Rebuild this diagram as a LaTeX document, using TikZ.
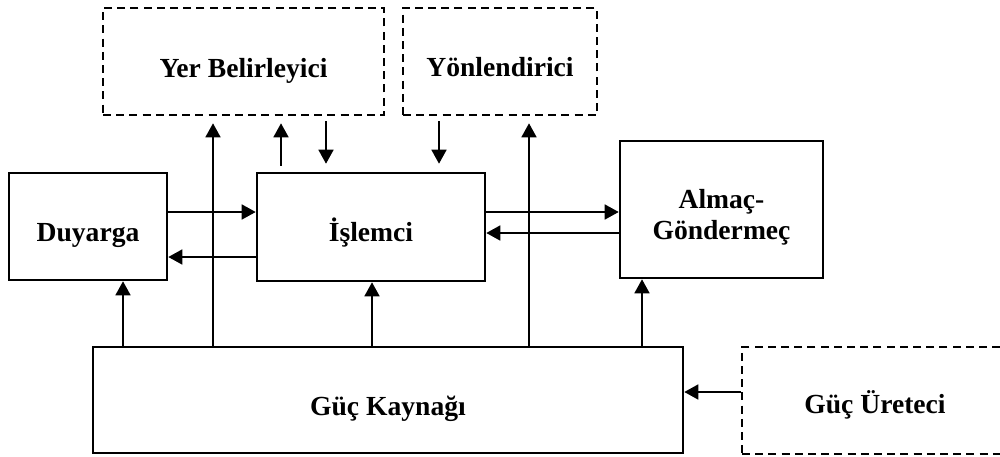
\documentclass[tikz,border=0pt]{standalone}
\usepackage{fontspec}
\setmainfont{Liberation Serif}
\usetikzlibrary{arrows.meta}
\begin{document}
\begin{tikzpicture}[x=0.5pt,y=-0.5pt,
  blk/.style={draw,line width=1.3pt,inner sep=0pt,align=center,
    font=\fontsize{13.8}{15.5}\selectfont\bfseries,
    text height=14.5pt,text depth=0pt},
  dblk/.style={blk,dash pattern=on 4pt off 2.6pt},
  arr/.style={line width=0.8pt,-{Triangle[length=7pt,width=7.5pt]}},
  ln/.style={line width=0.8pt}]
\useasboundingbox (0,0) rectangle (1000,456);
% boxes
\node[dblk,minimum width=140.5pt,minimum height=53.5pt,text height=15.5pt] (yer) at (243.5,61.5) {Yer Belirleyici};
\node[dblk,minimum width=97pt,minimum height=53.5pt] (yon) at (500,61.5) {Yönlendirici};
\node[blk,minimum width=79pt,minimum height=53.5pt] (duy) at (88,226.5) {Duyarga};
\node[blk,minimum width=114pt,minimum height=54pt,text height=14pt] (isl) at (371,227) {İşlemci};
\node[blk,minimum width=101.5pt,minimum height=68.5pt,text height=29.5pt] (alm) at (721.5,209.5) {Almaç-\\Göndermeç};
\node[blk,minimum width=295pt,minimum height=53pt,text height=15pt] (kay) at (388,400) {Güç Kaynağı};
\node[dblk,minimum width=150pt,minimum height=53.5pt,text height=12.5pt] (ure) at (892,400.5) {Güç Üreteci\hspace*{17pt}};
% x positions of vertical connectors
\coordinate (xa) at (123,0);
\coordinate (xb) at (213,0);
\coordinate (xc) at (372,0);
\coordinate (xd) at (529,0);
\coordinate (xe) at (642,0);
\coordinate (xf) at (281,0);
\coordinate (xg) at (326,0);
\coordinate (xh) at (439,0);
% y positions of horizontal connectors
\coordinate (ya) at (0,212);
\coordinate (yb) at (0,257);
\coordinate (yc) at (0,233);
\coordinate (yd) at (0,392);
% power connectors
\draw[arr] (kay.north -| xa) -- (duy.south -| xa);
\draw[arr,shorten >=3.5pt] (kay.north -| xb) -- (yer.south -| xb);
\draw[arr] (kay.north -| xc) -- (isl.south -| xc);
\draw[arr,shorten >=3.5pt] (kay.north -| xd) -- (yon.south -| xd);
\draw[arr] (kay.north -| xe) -- (alm.south -| xe);
\draw[arr] (ure.west |- yd) -- (kay.east |- yd);
% data connectors
\draw[arr] (duy.east |- ya) -- (isl.west |- ya);
\draw[arr] (isl.west |- yb) -- (duy.east |- yb);
\draw[arr] (isl.east |- ya) -- (alm.west |- ya);
\draw[arr] (alm.west |- yc) -- (isl.east |- yc);
\draw[arr,shorten <=3pt,shorten >=3.5pt] (isl.north -| xf) -- (yer.south -| xf);
\draw[arr,shorten <=2.5pt,shorten >=4pt] (yer.south -| xg) -- (isl.north -| xg);
\draw[arr,shorten <=2.5pt,shorten >=4pt] (yon.south -| xh) -- (isl.north -| xh);
\end{tikzpicture}
\end{document}
